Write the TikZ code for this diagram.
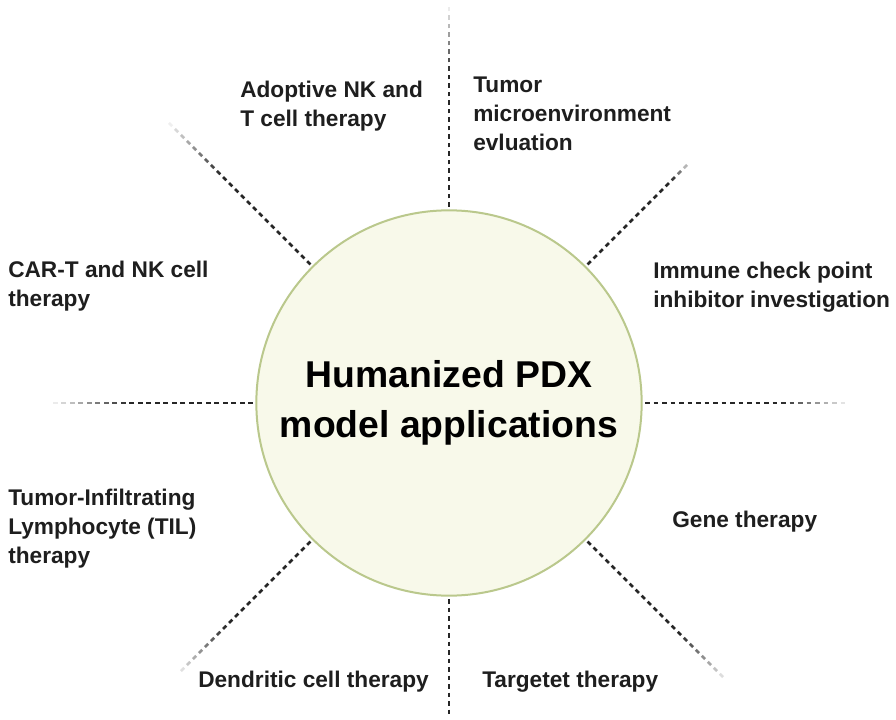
\documentclass[tikz,border=0pt]{standalone}
\usepackage{fontspec}
\setmainfont{Liberation Sans}
\definecolor{txt}{RGB}{30,30,30}
\definecolor{ring}{RGB}{186,200,140}
\definecolor{disc}{RGB}{248,249,234}
\begin{document}
\begin{tikzpicture}[x=0.75pt,y=-0.75pt,
  lbl/.style={anchor=north west, align=left, inner sep=0pt, text=txt,
    font=\bfseries\fontsize{17}{21.75}\selectfont},
  dashseg/.style={line width=2.1pt}]
\useasboundingbox (0,0) rectangle (896,720);
% radiating faded dashed lines
\node[circle, minimum size=291pt, inner sep=0pt] (hubpos) at (449,403) {};
\foreach \a/\D/\F in {-90/398/0.35, 90/318/0.08, 180/399/0.4, 0/401/0.35,
                      -135/397/0.38, -45/342/0.2, 45/394/0.35, 135/385/0.38}{
  \pgfmathsetmacro{\rf}{\D-\F*(\D-194)}
  \pgfmathsetmacro{\Dend}{\D-4}
  \foreach \r in {196,204.5,...,\Dend}{
    \pgfmathsetmacro{\q}{(\D-\r)/(\D-\rf)}
    \pgfmathsetmacro{\p}{max(6,min(85,85*min(\q,2)))}
    \draw[dashseg, black!\p] ([shift={(\a:\r)}]hubpos.center) -- ([shift={(\a:\r+4.6)}]hubpos.center);
  }
}
% central disc
\node[circle, draw=ring, line width=1.5pt, fill=disc, minimum size=289pt, inner sep=0pt] (hub) at (449,403) {};
\node[align=center, inner sep=0pt, text=black, font=\bfseries\fontsize{28}{37.5}\selectfont] (title) at (hub.center)
  {Humanized PDX\\model applications};
% labels
\node[lbl] (l1) at (240,80.5) {Adoptive NK and\\T cell therapy};
\node[lbl] (l2) at (473,76.5) {Tumor\\microenvironment\\evluation};
\node[lbl] (l3) at (8,260.5) {CAR-T and NK cell\\therapy};
\node[lbl] (l4) at (653,261.5) {Immune check point\\inhibitor investigation};
\node[lbl] (l5) at (8,488.5) {Tumor-Infiltrating\\Lymphocyte (TIL)\\therapy};
\node[lbl] (l6) at (672,510.5) {Gene therapy};
\node[lbl] (l7) at (198,670.5) {Dendritic cell therapy};
\node[lbl] (l8) at (482,670.5) {Targetet therapy};
\end{tikzpicture}
\end{document}
